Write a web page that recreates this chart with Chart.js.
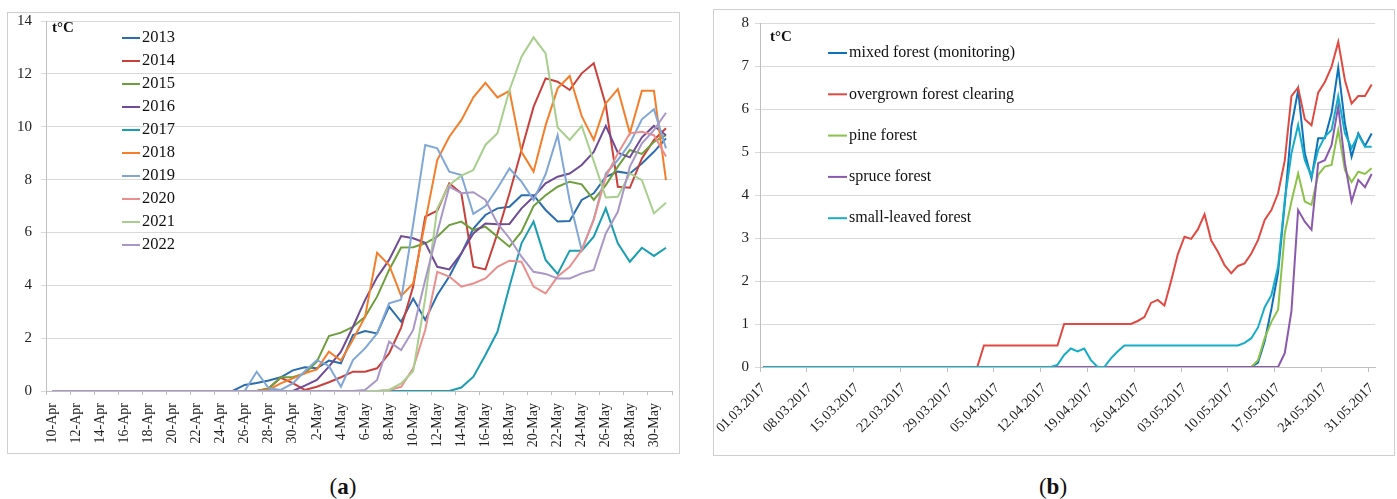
<!DOCTYPE html>
<html lang="en">
<head>
<meta charset="UTF-8">
<title>Soil temperature, spring</title>
<script src="https://cdn.jsdelivr.net/npm/chart.js"></script>
<style>
  body { margin: 0; background: #fff; width: 1397px; height: 499px; position: relative; overflow: hidden; font-family: "Liberation Serif", serif; }
  .frame { position: absolute; border: 1px solid #cfcfcf; box-sizing: border-box; }
  canvas { position: absolute; }
  .cap { position: absolute; top: 473px; width: 100px; text-align: center; font-size: 23px; line-height: 28px; color: #111; }
</style>
</head>
<body>

  <!-- panel a -->
  <div class="frame" style="left:7px;top:12px;width:673px;height:442px"></div>
  <canvas id="chartA" width="672" height="441" style="left:7px;top:12px"></canvas>
  <div class="cap" style="left:293px">(<b>a</b>)</div>

  <!-- panel b -->
  <div class="frame" style="left:713px;top:9px;width:682px;height:447px"></div>
  <canvas id="chartB" width="681" height="446" style="left:713px;top:9px"></canvas>
  <div class="cap" style="left:1003px">(<b>b</b>)</div>

<script>
// ---- panel (a): daily values 10 Apr - 31 May, by year ----
const daysA = [
  "10-Apr","11-Apr","12-Apr","13-Apr","14-Apr","15-Apr","16-Apr","17-Apr","18-Apr","19-Apr",
  "20-Apr","21-Apr","22-Apr","23-Apr","24-Apr","25-Apr","26-Apr","27-Apr","28-Apr","29-Apr","30-Apr",
  "1-May","2-May","3-May","4-May","5-May","6-May","7-May","8-May","9-May","10-May",
  "11-May","12-May","13-May","14-May","15-May","16-May","17-May","18-May","19-May","20-May",
  "21-May","22-May","23-May","24-May","25-May","26-May","27-May","28-May","29-May","30-May","31-May"
];
const yearsA = ["2013","2014","2015","2016","2017","2018","2019","2020","2021","2022"];
const colorsA = ["#2b6daf","#c8413c","#6f9e3d","#704c94","#1b9eb2","#f47e2c","#80a7d6","#ea8f8d","#a8cf8e","#a997c7"];

const t2013 = [0,0,0,0,0,0,0,0,0,0, 0,0,0,0,0,0, 0.23,0.30,0.40,0.52,0.78,
  0.90,0.86,1.15,1.05,2.12,2.27,2.18,3.19,2.62,3.50,2.69,3.63,4.33,5.20,6.15,6.66,6.91,6.97,7.41,7.41,
  6.85,6.41,6.43,7.23,7.48,8.10,8.30,8.23,8.61,9.05,9.56];
const t2014 = [0,0,0,0,0,0,0,0,0,0, 0,0,0,0,0,0,0,0, 0.10,0.50,0.30,
  0.04,0.16,0.33,0.52,0.73,0.73,0.86,1.42,2.40,3.95,6.60,6.82,7.86,7.48,4.70,4.60,5.96,7.48,9.12,10.75,
  11.83,11.70,11.39,12.02,12.40,10.82,7.73,7.69,8.80,9.50,9.94];
const t2015 = [0,0,0,0,0,0,0,0,0,0, 0,0,0,0,0,0,0,0, 0.10,0.52,0.52,
  0.67,1.11,2.08,2.21,2.43,2.81,3.57,4.58,5.43,5.44,5.59,5.84,6.28,6.41,6.09,6.22,5.84,5.46,6.03,7.00,
  7.41,7.73,7.92,7.82,7.23,7.79,8.49,9.12,8.97,9.43,9.68];
const t2016 = [0,0,0,0,0,0,0,0,0,0, 0,0,0,0,0,0,0,0,0,0, 0,
  0.20,0.42,0.92,1.49,2.43,3.44,4.30,4.96,5.86,5.78,5.61,4.70,4.60,5.21,5.96,6.34,6.31,6.32,6.91,7.35,
  7.86,8.11,8.23,8.55,9.05,10.03,9.02,8.84,9.60,10.03,9.68];
const t2017 = [0,0,0,0,0,0,0,0,0,0, 0,0,0,0,0,0,0,0,0,0, 0,
  0,0,0,0,0,0,0,0,0,0,0,0,0,0.13,0.54,1.36,2.24,3.95,5.59,6.41,
  4.96,4.43,5.31,5.31,5.84,6.91,5.59,4.89,5.42,5.11,5.42];
const t2018 = [0,0,0,0,0,0,0,0,0,0, 0,0,0,0,0,0,0,0, 0.05,0.29,0.48,
  0.67,0.82,1.49,1.15,1.95,2.80,5.23,4.77,3.60,4.07,6.40,8.74,9.62,10.25,11.11,11.66,11.11,11.36,9.05,8.30,
  10.05,11.45,11.92,10.40,9.50,10.88,11.42,9.75,11.36,11.36,7.98];
const t2019 = [0,0,0,0,0,0,0,0,0,0, 0,0,0,0,0,0,0, 0.73,0.10,0.04,0.29,
  0.75,1.17,0.95,0.16,1.17,1.61,2.18,3.32,3.45,6.30,9.31,9.18,8.30,8.17,6.70,7.00,7.67,8.42,7.92,7.23,
  8.20,9.68,7.20,5.33,6.50,8.23,8.74,9.37,10.28,10.66,9.18];
const t2020 = [0,0,0,0,0,0,0,0,0,0, 0,0,0,0,0,0,0,0,0,0, 0,
  0,0,0,0,0,0,0,0.04,0.16,0.86,2.31,4.51,4.33,3.95,4.07,4.26,4.70,4.93,4.89,3.95,
  3.69,4.33,4.70,5.33,6.47,8.10,8.99,9.75,9.81,9.68,8.87];
const t2021 = [0,0,0,0,0,0,0,0,0,0, 0,0,0,0,0,0,0,0,0,0, 0,
  0,0,0,0,0,0,0,0.04,0.29,0.75,3.50,6.90,7.80,8.15,8.36,9.31,9.75,11.39,12.65,13.38,
  12.77,9.97,9.50,10.03,8.70,7.32,7.35,8.23,7.98,6.72,7.12];
const t2022 = [0,0,0,0,0,0,0,0,0,0, 0,0,0,0,0,0,0,0,0,0, 0,
  0,0,0,0,0,0.04,0.42,1.87,1.55,2.31,4.20,6.00,7.73,7.48,7.52,7.23,6.34,5.78,5.08,4.51,
  4.43,4.26,4.26,4.45,4.58,5.96,6.78,8.49,9.37,9.87,10.53];
const seriesA = [t2013,t2014,t2015,t2016,t2017,t2018,t2019,t2020,t2021,t2022];
const ticksA = [0,2,4,6,8,10,12,14];

// ---- panel (b): daily values 01.03 - 31.05.2017, by site ----
const daysB = [
  "01.03.2017","02.03.2017","03.03.2017","04.03.2017","05.03.2017","06.03.2017","07.03.2017","08.03.2017",
  "09.03.2017","10.03.2017","11.03.2017","12.03.2017","13.03.2017","14.03.2017","15.03.2017","16.03.2017",
  "17.03.2017","18.03.2017","19.03.2017","20.03.2017","21.03.2017","22.03.2017","23.03.2017","24.03.2017",
  "25.03.2017","26.03.2017","27.03.2017","28.03.2017","29.03.2017","30.03.2017","31.03.2017",
  "01.04.2017","02.04.2017","03.04.2017","04.04.2017","05.04.2017","06.04.2017","07.04.2017","08.04.2017",
  "09.04.2017","10.04.2017","11.04.2017","12.04.2017","13.04.2017","14.04.2017","15.04.2017","16.04.2017",
  "17.04.2017","18.04.2017","19.04.2017","20.04.2017","21.04.2017","22.04.2017","23.04.2017","24.04.2017",
  "25.04.2017","26.04.2017","27.04.2017","28.04.2017","29.04.2017","30.04.2017",
  "01.05.2017","02.05.2017","03.05.2017","04.05.2017","05.05.2017","06.05.2017","07.05.2017","08.05.2017",
  "09.05.2017","10.05.2017","11.05.2017","12.05.2017","13.05.2017","14.05.2017","15.05.2017","16.05.2017",
  "17.05.2017","18.05.2017","19.05.2017","20.05.2017","21.05.2017","22.05.2017","23.05.2017","24.05.2017",
  "25.05.2017","26.05.2017","27.05.2017","28.05.2017","29.05.2017","30.05.2017","31.05.2017"
];
const sitesB = ["mixed forest (monitoring)","overgrown forest clearing","pine forest","spruce forest","small-leaved forest"];
const colorsB = ["#0d72bb","#e04a43","#8cc24a","#8b59ae","#17adc9"];

const mixed = [
  0,0,0,0,0,0,0,0,0,0, 0,0,0,0,0,0,0,0,0,0, 0,0,0,0,0,0,0,0,0,0,
  0,0,0,0,0,0,0,0,0,0, 0,0,0,0,0,0,0,0,0,0, 0,0,0,0,0,0,0,0,0,0,
  0,0,0,0,0,0,0,0,0,0, 0,0,0,0,
  0.10,0.60,1.35,2.20,3.80,5.60,6.44,4.97,4.39,5.32,5.32,5.90,6.96,5.66,4.89,5.43,5.14,5.43];
const clearing = [
  0,0,0,0,0,0,0,0,0,0, 0,0,0,0,0,0,0,0,0,0, 0,0,0,0,0,0,0,0,0,0, 0,0,0,
  0.5,0.5,0.5,0.5,0.5,0.5,0.5,0.5,0.5,0.5,0.5,0.5,
  1,1,1,1,1,1,1,1,1,1,1,
  1.07,1.16,1.49,1.56,1.43,2.00,2.62,3.03,2.98,3.20,3.55,2.94,2.68,2.37,2.18,2.35,2.41,2.64,
  2.95,3.42,3.65,4.04,4.80,6.30,6.50,5.76,5.62,6.38,6.63,6.98,7.56,6.67,6.13,6.30,6.30,6.57];
const pine = [
  0,0,0,0,0,0,0,0,0,0, 0,0,0,0,0,0,0,0,0,0, 0,0,0,0,0,0,0,0,0,0,
  0,0,0,0,0,0,0,0,0,0, 0,0,0,0,0,0,0,0,0,0, 0,0,0,0,0,0,0,0,0,0,
  0,0,0,0,0,0,0,0,0,0, 0,0,0,0,
  0.16,0.67,1.05,1.33,3.11,3.85,4.50,3.85,3.77,4.47,4.66,4.70,5.51,4.58,4.30,4.54,4.49,4.62];
const spruce = [
  0,0,0,0,0,0,0,0,0,0, 0,0,0,0,0,0,0,0,0,0, 0,0,0,0,0,0,0,0,0,0,
  0,0,0,0,0,0,0,0,0,0, 0,0,0,0,0,0,0,0,0,0, 0,0,0,0,0,0,0,0,0,0,
  0,0,0,0,0,0,0,0,0,0, 0,0,0,0,0,0,0,0,
  0.32,1.30,3.65,3.38,3.19,4.74,4.81,5.16,6.06,4.74,3.85,4.35,4.18,4.49];
const smallLeaved = [
  0,0,0,0,0,0,0,0,0,0, 0,0,0,0,0,0,0,0,0,0, 0,0,0,0,0,0,0,0,0,0,
  0,0,0,0,0,0,0,0,0,0, 0,0,0,0,
  0.05,0.28,0.43,0.36,0.43,0.16,0,0,0.20,0.36,
  0.5,0.5,0.5,0.5,0.5,0.5,0.5,0.5,0.5,0.5,0.5,0.5,0.5,0.5,0.5,0.5,0.5,0.5,
  0.56,0.67,0.92,1.39,1.67,2.33,3.88,4.97,5.63,4.81,4.43,5.05,5.36,5.51,6.30,5.44,5.09,5.40,5.12,5.12];
const seriesB = [mixed, clearing, pine, spruce, smallLeaved];
const ticksB = [0,1,2,3,4,5,6,7,8];

// legend + unit label drawn inside the plot, like the Excel original
const insideLegend = {
  id: 'insideLegend',
  afterDraw(chart, args, o) {
    const ctx = chart.ctx;
    ctx.save();
    ctx.font = o.font;
    ctx.textBaseline = 'middle';
    chart.data.datasets.forEach((ds, i) => {
      const y = o.y + i * o.step;
      ctx.strokeStyle = ds.borderColor;
      ctx.lineWidth = 2;
      ctx.beginPath();
      ctx.moveTo(o.x, y);
      ctx.lineTo(o.x + o.len, y);
      ctx.stroke();
      ctx.fillStyle = '#111';
      ctx.fillText(ds.label, o.x + o.len + 2, y);
    });
    ctx.font = 'bold 15px "Liberation Serif"';
    ctx.fillText('t°C', o.unitX, o.unitY);
    ctx.restore();
  }
};

const tickFont = size => ({ family: 'Liberation Serif', size: size });
const AXIS = '#bfbfbf', GRID = '#d9d9d9';

function makeChart(id, cfg) {
  const n = cfg.series.length;
  return new Chart(document.getElementById(id), {
    type: 'line',
    data: {
      labels: cfg.labels,
      datasets: cfg.series.map((vals, i) => ({
        label: cfg.names[i],
        data: vals,
        borderColor: cfg.colors[i],
        borderWidth: 2,
        pointRadius: 0,
        tension: 0,
        order: n - 1 - i   // later series on top, as in Excel
      }))
    },
    options: {
      responsive: false,
      animation: false,
      layout: { padding: cfg.padding },
      plugins: {
        legend: { display: false },
        tooltip: { enabled: false },
        insideLegend: cfg.legend
      },
      scales: {
        x: {
          offset: true,
          grid: {
            offset: true,
            drawOnChartArea: false,
            tickLength: cfg.xTickLen,
            color: c => (c.index === undefined ? cfg.endTick : c.index % cfg.every === 0) ? AXIS : 'rgba(0,0,0,0)'
          },
          border: { color: AXIS },
          ticks: {
            autoSkip: false,
            minRotation: cfg.rotation,
            maxRotation: cfg.rotation,
            padding: cfg.xPad,
            color: '#222',
            font: tickFont(14),
            callback: (v, i) => i % cfg.every === 0 ? cfg.labels[i] : ''
          },
          afterFit: s => { s.height = cfg.xHeight; s.paddingLeft = 0; s.paddingRight = 0; }
        },
        y: {
          min: 0,
          max: cfg.yTicks[cfg.yTicks.length - 1],
          afterBuildTicks: s => { s.ticks = cfg.yTicks.map(v => ({ value: v })); },
          grid: { color: GRID, tickLength: 5 },
          border: { color: AXIS },
          ticks: { padding: cfg.yPad, color: '#222', font: tickFont(15) },
          // fixed box so the plot area lands where the original's does
          afterFit: s => { s.width = cfg.yWidth; s.paddingTop = 0; s.paddingBottom = 0; }
        }
      }
    },
    plugins: [insideLegend]
  });
}

makeChart('chartA', {
  labels: daysA, names: yearsA, colors: colorsA, series: seriesA, yTicks: ticksA,
  padding: { top: 9, right: 7, left: 0, bottom: 0 },
  every: 2, endTick: true, rotation: 90, xTickLen: 4, xPad: 8, xHeight: 62,
  yWidth: 39, yPad: 9,
  legend: { x: 115, y: 26, step: 23, len: 18, font: '16.5px "Liberation Serif"', unitX: 45, unitY: 16 }
});

makeChart('chartB', {
  labels: daysB, names: sitesB, colors: colorsB, series: seriesB, yTicks: ticksB,
  padding: { top: 14, right: 19, left: 0, bottom: 0 },
  every: 7, endTick: false, rotation: 45, xTickLen: 5, xPad: 8, xHeight: 88,
  yWidth: 47, yPad: 6,
  legend: { x: 115, y: 44, step: 41.3, len: 19, font: '16px "Liberation Serif"', unitX: 57, unitY: 28 }
});
</script>
</body>
</html>
